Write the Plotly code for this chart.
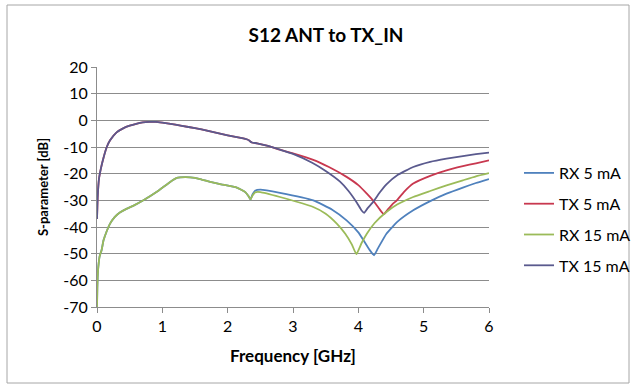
import plotly.graph_objects as go

# ---- data ----
f_tx_low = [0.0, 0.005, 0.01, 0.03, 0.06, 0.1, 0.15, 0.2, 0.3, 0.4, 0.5, 0.6, 0.7, 0.8,
            0.9, 1.0, 1.2, 1.4, 1.6, 1.8, 2.0, 2.2, 2.3, 2.33, 2.37, 2.45, 2.6, 2.8]
tx_low = [-37, -33, -29, -22, -18, -14, -10, -7.5, -4.5, -3.0, -2.0, -1.3, -0.8, -0.6,
          -0.6, -0.9, -1.6, -2.5, -3.4, -4.5, -5.6, -6.6, -7.2, -7.6, -8.3, -8.6, -9.5, -11]

f_tx15_high = [3.0, 3.3, 3.5, 3.72, 3.85, 3.98, 4.05, 4.09, 4.14, 4.23, 4.33, 4.43, 4.6,
               4.84, 5.1, 5.35, 5.6, 5.8, 6.0]
tx15_high = [-12.6, -16.0, -19.0, -23.0, -26.5, -31.0, -33.8, -34.7, -33.0, -30.5, -27.0,
             -24.0, -20.5, -17.5, -15.6, -14.4, -13.4, -12.7, -12.1]

f_tx5_high = [3.0, 3.31, 3.55, 3.82, 4.0, 4.13, 4.25, 4.33, 4.39, 4.45, 4.52, 4.59, 4.7,
              4.84, 5.1, 5.35, 5.6, 5.8, 6.0]
tx5_high = [-12.4, -14.8, -17.5, -21.2, -24.3, -27.5, -30.8, -33.5, -35.2, -33.5, -31.5,
            -30.0, -26.8, -23.7, -20.8, -18.75, -17.2, -16.1, -15.0]

f_rx_low = [0.0, 0.005, 0.01, 0.02, 0.04, 0.07, 0.1, 0.15, 0.2, 0.27, 0.35, 0.45, 0.56,
            0.71, 0.91, 1.12, 1.22, 1.35, 1.5, 1.6, 1.73, 1.9, 2.14, 2.27, 2.32, 2.35]
rx_low = [-70, -63, -59, -55, -51, -48.7, -45, -41.5, -38.75, -36.3, -34.6, -33.2, -32.0,
          -30.0, -26.9, -23.1, -21.6, -21.3, -21.6, -22.2, -23.1, -24.0, -25.2, -26.9,
          -28.5, -29.7]

f_rx5_high = [2.38, 2.42, 2.5, 2.8, 3.31, 3.6, 3.82, 4.0, 4.08, 4.17, 4.24, 4.3, 4.43, 4.6,
              4.84, 5.1, 5.35, 5.6, 5.8, 6.0]
rx5_high = [-27.8, -26.4, -26.0, -27.2, -30.0, -33.5, -37.5, -42.0, -45.0, -48.5, -50.6,
            -48.0, -42.5, -38.0, -33.75, -30.3, -27.5, -25.2, -23.5, -22.0]

f_rx15_high = [2.38, 2.42, 2.5, 2.8, 3.31, 3.5, 3.67, 3.8, 3.9, 3.97, 4.05, 4.13, 4.25, 4.43,
               4.6, 4.84, 5.1, 5.35, 5.6, 5.8, 6.0]
rx15_high = [-28.2, -27.0, -26.9, -28.75, -32.5, -35.0, -38.7, -42.5, -46.5, -50.2, -46.0,
             -42.5, -38.5, -34.4, -31.5, -28.75, -26.5, -24.4, -22.5, -21.0, -19.8]

series_names = ["RX 5 mA", "TX 5 mA", "RX 15 mA", "TX 15 mA"]
series_colors = ["#4F81BD", "#C8384F", "#9BBB59", "#5A5A8E"]

y_ticks = [20, 10, 0, -10, -20, -30, -40, -50, -60, -70]
y_tick_labels = ["20", "10", "0", "-10", "-20", "-30", "-40", "-50", "-60", "-70"]
x_ticks = [0, 1, 2, 3, 4, 5, 6]
x_tick_labels = ["0", "1", "2", "3", "4", "5", "6"]

series_x = [f_rx_low + f_rx5_high, f_tx_low + f_tx5_high,
            f_rx_low + f_rx15_high, f_tx_low + f_tx15_high]
series_y = [rx_low + rx5_high, tx_low + tx5_high,
            rx_low + rx15_high, tx_low + tx15_high]

FONT = "Lato, 'Open Sans', sans-serif"
GRID = "#8C8C8C"

fig = go.Figure()
for name, color, xs, ys in zip(series_names, series_colors, series_x, series_y):
    fig.add_trace(go.Scatter(x=xs, y=ys, name=name, mode="lines",
                             line=dict(color=color, width=1.8, shape="spline", smoothing=0.4),
                             legendgroup=name))

W, H = 637, 386
ml, mr, mt, mb = 97, 148, 67, 79
pw, ph = W - ml - mr, H - mt - mb

def px_x(p):
    return (p - ml) / pw

def px_y(p):
    return (H - mb - p) / ph

fig.add_shape(type="rect", xref="paper", yref="paper",
              x0=px_x(7), x1=px_x(629), y0=px_y(383), y1=px_y(5),
              line=dict(color="#A6A6A6", width=1), layer="below")

fig.update_layout(
    width=W, height=H,
    margin=dict(l=ml, r=mr, t=mt, b=mb, autoexpand=False),
    paper_bgcolor="white", plot_bgcolor="white",
    font=dict(family=FONT, color="#000000", size=15),
    title=dict(text="<b>S12 ANT to TX_IN</b>", x=326 / W, xanchor="center",
               y=1 - 35 / H, yanchor="middle", font=dict(size=19, family=FONT)),
    showlegend=True,
    legend=dict(x=px_x(519), y=px_y(156), xanchor="left", yanchor="top",
                font=dict(size=16, family=FONT), tracegroupgap=7,
                bgcolor="rgba(0,0,0,0)"),
    xaxis=dict(range=[0, 6], tickmode="array", tickvals=x_ticks, ticktext=x_tick_labels,
               showgrid=False, zeroline=False, automargin=False,
               showline=True, linecolor=GRID, linewidth=1,
               ticks="outside", ticklen=5, tickcolor=GRID,
               tickfont=dict(size=16),
               title=dict(text="<b>Frequency [GHz]</b>", font=dict(size=17), standoff=15)),
    yaxis=dict(range=[-70, 20], tickmode="array", tickvals=y_ticks, ticktext=y_tick_labels,
               showgrid=True, gridcolor=GRID, automargin=False,
               gridwidth=1, zeroline=False, showline=True, linecolor=GRID, linewidth=1,
               ticks="outside", ticklen=5, tickcolor=GRID,
               tickfont=dict(size=16),
               title=dict(text="<b>S-parameter [dB]</b>", font=dict(size=13), standoff=11)),
)

fig.write_html("out.html")
